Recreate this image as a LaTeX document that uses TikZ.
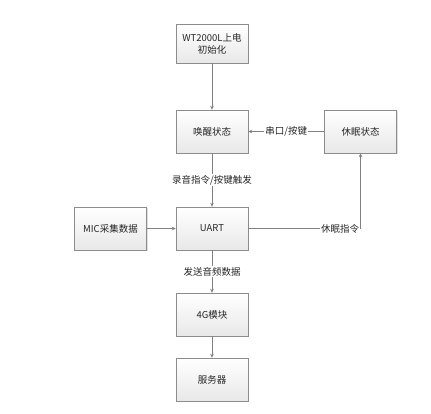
\documentclass[tikz,border=0pt]{standalone}
\usepackage{fontspec}
\setmainfont{Noto Sans CJK SC}
\usetikzlibrary{positioning, arrows.meta, shadows}

\begin{document}
\begin{tikzpicture}[
        x=1pt, y=1pt,
        >=Stealth,
        on grid,
        every node/.style={font=\fontsize{9.5}{12}\selectfont, text=black!85},
        block/.style={draw=gray!90, top color=white, bottom color=gray!18,
            drop shadow={opacity=0.25, shadow xshift=1.2pt, shadow yshift=-1.2pt},
            minimum width=72pt, minimum height=43pt, align=center},
        link/.style={-{Stealth[length=4pt, width=3.5pt]}, draw=gray, line width=0.6pt},
        tag/.style={fill=white, inner sep=1pt}
    ]
        \useasboundingbox (0,0) rectangle (431,-414);
        \node[block, minimum height=39pt] (init) at (212,-43.5) {WT2000L上电\\初始化};
\node[block, below=88pt of init] (wake) {唤醒状态};
        \node[block, below=97pt of wake] (uart) {UART};
        \node[block, below=86pt of uart] (lte) {4G模块};
\node[block, below=65pt of lte] (server) {服务器};
        \node[block, left=101.5pt of uart] (mic) {MIC采集数据};
        \node[block, right=148.5pt of wake] (sleep) {休眠状态};
        \coordinate (turn) at (sleep |- uart);
\draw[link] (init) -- (wake);
        \draw[link] (wake) -- node[tag] {录音指令/按键触发} (uart);
        \draw[link] (uart) -- node[tag] {发送音频数据} (lte);
        \draw[link] (lte) -- (server);
        \draw[link] (mic) -- (uart);
        \draw[link] (sleep) -- node[tag] {串口/按键} (wake);
\draw[link] (uart) -- node[tag, pos=1, left] {休眠指令} (turn) -- (sleep);
\end{tikzpicture}
\end{document}
